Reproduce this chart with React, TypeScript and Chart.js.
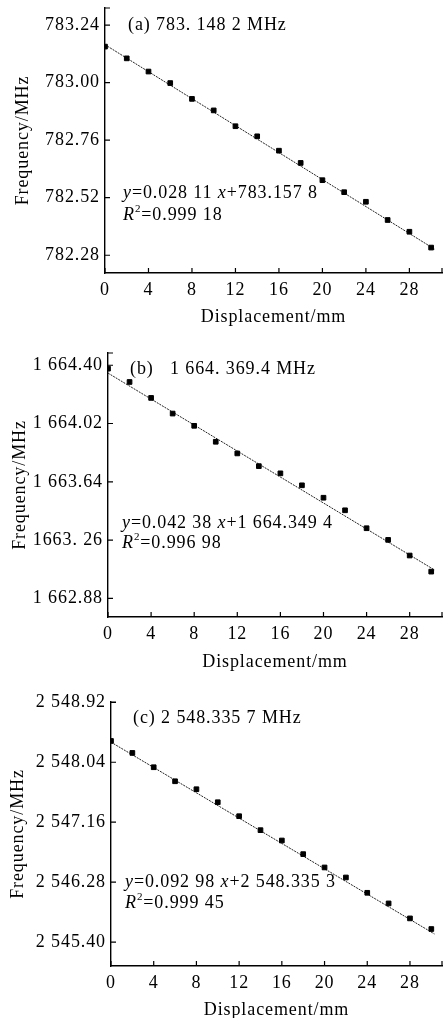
import React, { useEffect, useRef } from 'react';
import { Chart, registerables } from 'chart.js';

Chart.register(...registerables);

// ---------- data ----------
const displacement = [0, 2, 4, 6, 8, 10, 12, 14, 16, 18, 20, 22, 24, 26, 28, 30];
const freqA = [783.150, 783.101, 783.046, 782.998, 782.932, 782.884, 782.818, 782.776, 782.716, 782.665, 782.593, 782.543, 782.503, 782.427, 782.378, 782.312];
const freqB = [1664.378, 1664.291, 1664.187, 1664.085, 1664.005, 1663.901, 1663.825, 1663.742, 1663.695, 1663.617, 1663.536, 1663.454, 1663.337, 1663.261, 1663.159, 1663.054];
const freqC = [2548.353, 2548.177, 2547.967, 2547.761, 2547.644, 2547.453, 2547.248, 2547.043, 2546.891, 2546.691, 2546.495, 2546.348, 2546.123, 2545.967, 2545.747, 2545.591];

const fitX = [0, 30.3];
const fitA = [783.158, 782.306];
const fitB = [1664.349, 1663.065];
const fitC = [2548.335, 2545.518];

const xTicks = [0, 4, 8, 12, 16, 20, 24, 28];
const yTicksA = [782.28, 782.52, 782.76, 783.0, 783.24];
const yLabelsA = ['782.28', '782.52', '782.76', '783.00', '783.24'];
const yTicksB = [1662.88, 1663.26, 1663.64, 1664.02, 1664.4];
const yLabelsB = ['1 662.88', '1663. 26', '1 663.64', '1 664.02', '1 664.40'];
const yTicksC = [2545.4, 2546.28, 2547.16, 2548.04, 2548.92];
const yLabelsC = ['2 545.40', '2 546.28', '2 547.16', '2 548.04', '2 548.92'];

const headerA = ['(a) 783. 148 2 MHz'];
const headerB = ['(b)', '1 664. 369.4 MHz'];
const headerC = ['(c) 2 548.335 7 MHz'];
const eqA = ['0.028 11', '783.157 8', '0.999 18'];
const eqB = ['0.042 38', '1 664.349 4', '0.996 98'];
const eqC = ['0.092 98', '2 548.335 3', '0.999 45'];

const xTitle = 'Displacement/mm';
const yTitle = 'Frequency/MHz';

const FONT = "'Liberation Serif', 'Times New Roman', serif";
const FS = 18;
const SPACING = '0.9px';

type Seg = { t: string; i?: boolean; sup?: boolean };

function drawRich(ctx: CanvasRenderingContext2D, x: number, y: number, segs: Seg[]) {
  let cx = x;
  ctx.textBaseline = 'middle';
  ctx.textAlign = 'left';
  ctx.fillStyle = '#000';
  for (const s of segs) {
    const size = s.sup ? 11 : FS;
    ctx.font = `${s.i ? 'italic ' : ''}${size}px ${FONT}`;
    const dy = s.sup ? -6 : 0;
    ctx.fillText(s.t, cx, y + dy);
    cx += ctx.measureText(s.t).width;
  }
}

function setSpacing(chart: any) {
  const c = chart.ctx as any;
  if (c && 'letterSpacing' in c) c.letterSpacing = SPACING;
}

const decorPlugin = {
  id: 'decor',
  beforeUpdate(chart: any) { setSpacing(chart); },
  beforeLayout(chart: any) { setSpacing(chart); },
  beforeDraw(chart: any) { setSpacing(chart); },
  afterDraw(chart: any, _args: any, opts: any) {
    const { ctx, chartArea, scales } = chart;
    const { left, right, top, bottom } = chartArea;
    const x = scales.x;
    const y = scales.y;
    ctx.save();
    ctx.strokeStyle = '#000';
    ctx.lineWidth = 1.2;
    ctx.beginPath();
    x.ticks.forEach((t: any) => {
      const px = x.getPixelForValue(t.value);
      ctx.moveTo(px, bottom);
      ctx.lineTo(px, bottom - 5);
    });
    y.ticks.forEach((t: any) => {
      const py = y.getPixelForValue(t.value);
      ctx.moveTo(left, py);
      ctx.lineTo(left + 5, py);
    });
    ctx.moveTo(left, top);
    ctx.lineTo(left + 5, top);
    ctx.moveTo(right, bottom);
    ctx.lineTo(right, bottom - 5);
    ctx.stroke();
    const items = (opts && opts.items) || [];
    items.forEach((it: any) => drawRich(ctx, it.x, it.y, it.segs));
    ctx.restore();
  },
};

type Cfg = {
  height: number;
  padTop: number;
  yWidth: number;
  xHeight: number;
  titlePadB: number;
  yTitlePad: number;
  yMin: number;
  yMax: number;
  yTicks: number[];
  yLabels: string[];
  values: number[];
  fit: number[];
  items: any[];
};

function makeItems(header: string[], hx: number[], hy: number, eq: string[], ex: number, ey: number, ry: number) {
  const items: any[] = header.map((h, k) => ({ x: hx[k], y: hy, segs: [{ t: h }] }));
  items.push({ x: ex, y: ey, segs: [{ t: 'y', i: true }, { t: '=' + eq[0] + ' ' }, { t: 'x', i: true }, { t: '+' + eq[1] }] });
  items.push({ x: ex, y: ry, segs: [{ t: 'R', i: true }, { t: '2', sup: true }, { t: '=' + eq[2] }] });
  return items;
}

const cfgA: Cfg = {
  height: 330, padTop: 8, yWidth: 105, xHeight: 57, titlePadB: 2, yTitlePad: 12,
  yMin: 782.206, yMax: 783.311, yTicks: yTicksA, yLabels: yLabelsA, values: freqA, fit: fitA,
  items: makeItems(headerA, [128], 25, eqA, 123, 193, 215),
};
const cfgB: Cfg = {
  height: 345, padTop: 23, yWidth: 108, xHeight: 58, titlePadB: 2, yTitlePad: 9,
  yMin: 1662.758, yMax: 1664.48, yTicks: yTicksB, yLabels: yLabelsB, values: freqB, fit: fitB,
  items: makeItems(headerB, [130, 170], 39, eqB, 122, 193, 213),
};
const cfgC: Cfg = {
  height: 360, padTop: 32, yWidth: 111, xHeight: 64, titlePadB: 9, yTitlePad: 7,
  yMin: 2545.048, yMax: 2548.925, yTicks: yTicksC, yLabels: yLabelsC, values: freqC, fit: fitC,
  items: makeItems(headerC, [133], 48, eqC, 125, 212, 233),
};

function Panel({ cfg, top }: { cfg: Cfg; top: number }) {
  const ref = useRef<HTMLCanvasElement>(null);
  useEffect(() => {
    if (!ref.current) return;
    const chart = new Chart(ref.current, {
      type: 'scatter',
      data: {
        datasets: [
          {
            data: displacement.map((d, k) => ({ x: d, y: cfg.values[k] })),
            pointStyle: 'rect',
            pointRadius: 3.3,
            pointBorderWidth: 1,
            backgroundColor: '#000',
            borderColor: '#000',
            showLine: false,
          },
          {
            data: fitX.map((d, k) => ({ x: d, y: cfg.fit[k] })),
            showLine: true,
            pointRadius: 0,
            borderColor: '#222',
            borderWidth: 1,
            borderDash: [2, 1],
          },
        ],
      },
      options: {
        responsive: false,
        animation: false,
        layout: { padding: { top: cfg.padTop, right: 3, left: 0, bottom: 0 } },
        plugins: {
          legend: { display: false },
          tooltip: { enabled: false },
          decor: { items: cfg.items },
        } as any,
        scales: {
          x: {
            type: 'linear',
            min: 0,
            max: 31,
            grid: { display: false, drawTicks: false },
            border: { display: true, color: '#000', width: 1.4 },
            afterBuildTicks: (s: any) => { s.ticks = xTicks.map((v) => ({ value: v })); },
            afterFit: (s: any) => { s.height = cfg.xHeight; s.paddingLeft = 0; s.paddingRight = 0; },
            ticks: { color: '#000', font: { family: FONT, size: FS }, padding: 6, autoSkip: false, maxRotation: 0, callback: (v: any) => String(v) },
            title: { display: true, text: xTitle, color: '#000', font: { family: FONT, size: FS }, padding: { top: 0, bottom: cfg.titlePadB } },
          },
          y: {
            type: 'linear',
            min: cfg.yMin,
            max: cfg.yMax,
            grid: { display: false, drawTicks: false },
            border: { display: true, color: '#000', width: 1.4 },
            afterBuildTicks: (s: any) => { s.ticks = cfg.yTicks.map((v) => ({ value: v })); },
            afterFit: (s: any) => { s.width = cfg.yWidth; s.paddingTop = 0; s.paddingBottom = 0; },
            ticks: {
              color: '#000', font: { family: FONT, size: FS }, padding: 5, autoSkip: false,
              callback: (v: any, i: number) => cfg.yLabels[i],
            },
            title: { display: true, text: yTitle, color: '#000', font: { family: FONT, size: FS }, padding: { top: cfg.yTitlePad, bottom: 0 } },
          },
        },
      } as any,
      plugins: [decorPlugin as any],
    });
    return () => chart.destroy();
  }, [cfg]);
  return (
    <canvas
      ref={ref}
      width={447}
      height={cfg.height}
      style={{ position: 'absolute', left: 0, top, width: 447, height: cfg.height }}
    />
  );
}

export default function App() {
  return (
    <div style={{ position: 'fixed', left: 0, top: 0, width: 447, height: 1018, overflow: 'hidden', background: '#fff' }}>
      <Panel cfg={cfgA} top={0} />
      <Panel cfg={cfgB} top={330} />
      <Panel cfg={cfgC} top={670} />
    </div>
  );
}
